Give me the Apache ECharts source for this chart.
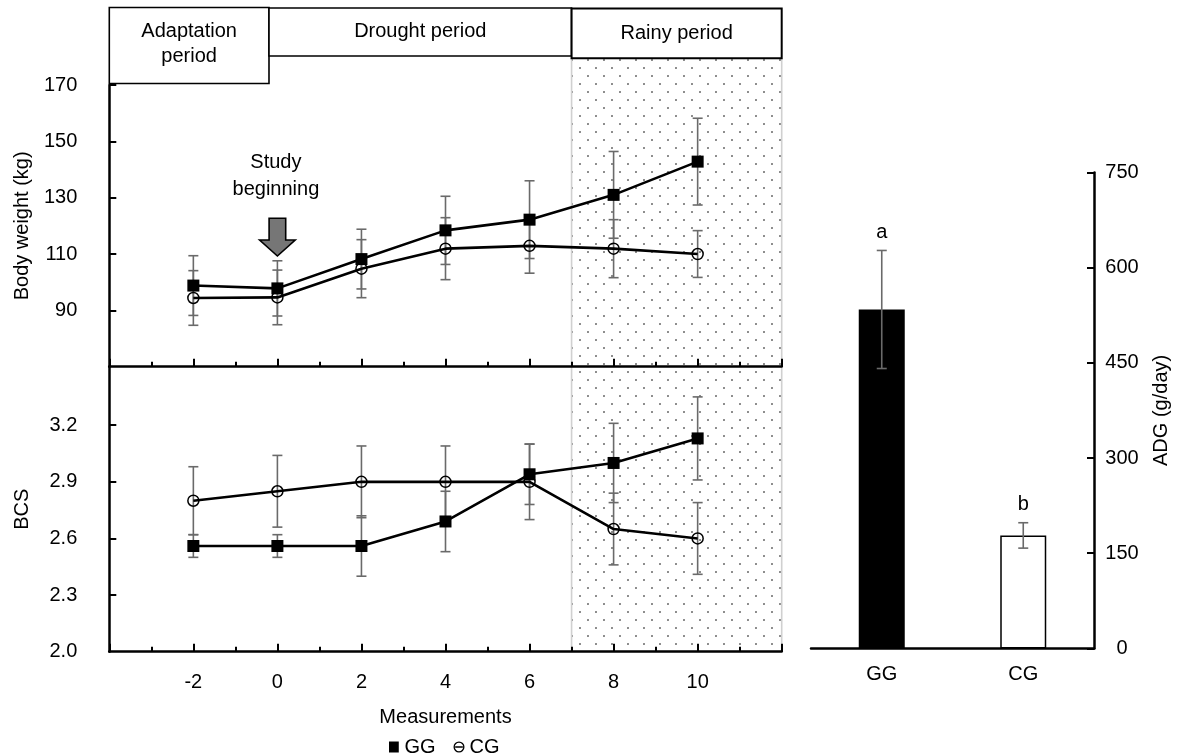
<!DOCTYPE html>
<html>
<head>
<meta charset="utf-8">
<script src="https://cdn.jsdelivr.net/npm/echarts@6.0.0/dist/echarts.min.js"></script>
<style>
html,body{margin:0;padding:0;background:#fff;}
#chart{width:1177px;height:755px;}
</style>
</head>
<body>
<div id="chart"></div>
<script>
// ---------- data ----------
const measurements = [-2, 0, 2, 4, 6, 8, 10];
const xLabels = [-2, 0, 2, 4, 6, 8, 10];
const bwTicks = [90, 110, 130, 150, 170];
const bcsTicks = [2.3, 2.6, 2.9, 3.2];
const bcsLabels = [2.0, 2.3, 2.6, 2.9, 3.2];

const bwGG   = [98.8, 97.8, 108.2, 118.4, 122.2, 131.0, 142.8];
const bwGGsd = [10.6, 9.8, 10.6, 12.1, 13.8, 15.4, 15.4];
const bwCG   = [94.4, 94.6, 104.8, 111.9, 112.9, 111.9, 110.0];
const bwCGsd = [9.7, 9.7, 10.3, 11.0, 9.7, 10.3, 8.3];

const bcsGG   = [2.56, 2.56, 2.56, 2.69, 2.94, 3.00, 3.13];
const bcsGGsd = [0.06, 0.06, 0.16, 0.16, 0.16, 0.21, 0.22];
const bcsCG   = [2.80, 2.85, 2.90, 2.90, 2.90, 2.65, 2.60];
const bcsCGsd = [0.18, 0.19, 0.19, 0.19, 0.20, 0.19, 0.19];

const groups = ['GG', 'CG'];
const adg = [534, 178];
const adgSd = [93, 20];
const adgLetters = ['a', 'b'];

const periodNames = ['Adaptation\nperiod', 'Drought period', 'Rainy period'];
const periodBounds = [-4, -0.2, 7, 12];
const studyStart = 0;

// ---------- styles ----------
const FF = 'Liberation Sans, Arial, Helvetica, sans-serif';
const FS = 20;
const ERR = '#6a6a6a';

const chart = echarts.init(document.getElementById('chart'), null, {renderer: 'canvas'});

function errRender(letters) {
  return function (params, api) {
    const x = api.value(0), lo = api.value(1), hi = api.value(2);
    const a = api.coord([x, lo]), b = api.coord([x, hi]);
    const w = 5;
    const st = {stroke: ERR, lineWidth: 1.6};
    const children = [
      {type: 'line', shape: {x1: a[0], y1: a[1], x2: b[0], y2: b[1]}, style: st},
      {type: 'line', shape: {x1: a[0] - w, y1: a[1], x2: a[0] + w, y2: a[1]}, style: st},
      {type: 'line', shape: {x1: b[0] - w, y1: b[1], x2: b[0] + w, y2: b[1]}, style: st}
    ];
    if (letters) {
      children.push({type: 'text', style: {text: letters[params.dataIndex], x: b[0], y: b[1] - 8,
        align: 'center', verticalAlign: 'bottom', font: FS + 'px ' + FF, fill: '#000'}});
    }
    return {type: 'group', children};
  };
}
function errData(xs, m, sd) { return xs.map((x, i) => [x, m[i] - sd[i], m[i] + sd[i]]); }
function pts(xs, ys) { return xs.map((x, i) => [x, ys[i]]); }

const axisLineStyle = {color: '#000', width: 2.5};
const lbl = {color: '#000', fontSize: FS, fontFamily: FF};

function xValAxis(gi, showLabels) {
  return {
    type: 'value', gridIndex: gi, min: -4, max: 12, interval: 2,
    axisLine: {show: true, onZero: false, lineStyle: axisLineStyle},
    axisTick: {show: true, inside: true, length: 8, lineStyle: {color: '#000', width: 2}},
    minorTick: {show: true, splitNumber: 2, length: 5, lineStyle: {color: '#000', width: 2}},
    splitLine: {show: false}, minorSplitLine: {show: false},
    axisLabel: showLabels ? Object.assign({customValues: xLabels, margin: 21}, lbl) : {show: false},
    name: showLabels ? 'Measurements' : '',
    nameLocation: 'middle', nameGap: 56, nameTextStyle: lbl
  };
}

const lineBase = {
  type: 'line', z: 4, lineStyle: {color: '#000', width: 2.6}, emphasis: {disabled: true}
};
const ggStyle = {symbol: 'rect', symbolSize: 12, itemStyle: {color: '#000'}};
const cgStyle = {symbol: 'circle', symbolSize: 11, itemStyle: {color: 'rgba(0,0,0,0)', borderColor: '#000', borderWidth: 1.5}};

const option = {
  backgroundColor: '#fff',
  animation: false,
  textStyle: {fontFamily: FF},
  grid: [
    {left: 109.3, top: 85, width: 672.4, height: 281.7},
    {left: 109.3, top: 366.7, width: 672.4, height: 285},
    {left: 811, top: 172.4, width: 283, height: 476}
  ],
  xAxis: [
    xValAxis(0, false),
    xValAxis(1, true),
    {
      type: 'category', gridIndex: 2, data: groups,
      axisLine: {show: true, lineStyle: axisLineStyle},
      axisTick: {show: false},
      axisLabel: Object.assign({margin: 16}, lbl)
    }
  ],
  yAxis: [
    {
      type: 'value', gridIndex: 0, min: 70, max: 170,
      axisLine: {show: true, onZero: false, lineStyle: axisLineStyle},
      axisTick: {show: true, inside: true, length: 7, customValues: bwTicks, lineStyle: {color: '#000', width: 2}},
      axisLabel: Object.assign({customValues: bwTicks, margin: 32}, lbl),
      splitLine: {show: false},
      name: 'Body weight (kg)', nameLocation: 'middle', nameGap: 77, nameTextStyle: lbl
    },
    {
      type: 'value', gridIndex: 1, min: 2.0, max: 3.51,
      axisLine: {show: true, onZero: false, lineStyle: axisLineStyle},
      axisTick: {show: true, inside: true, length: 7, customValues: bcsTicks, lineStyle: {color: '#000', width: 2}},
      axisLabel: Object.assign({customValues: bcsLabels, margin: 32, formatter: v => Number(v).toFixed(1)}, lbl),
      splitLine: {show: false},
      name: 'BCS', nameLocation: 'middle', nameGap: 77, nameTextStyle: lbl
    },
    {
      type: 'value', gridIndex: 2, position: 'right', min: 0, max: 750, interval: 150,
      axisLine: {show: true, onZero: false, lineStyle: axisLineStyle},
      axisTick: {show: true, inside: true, length: 7, lineStyle: {color: '#000', width: 2}},
      axisLabel: Object.assign({margin: 28, align: 'center'}, lbl),
      splitLine: {show: false},
      name: 'ADG (g/day)', nameLocation: 'middle', nameGap: 57, nameRotate: 90, nameTextStyle: lbl
    }
  ],
  legend: {
    left: 384, top: 732, itemWidth: 11, itemHeight: 11, itemGap: 18,
    textStyle: lbl, selectedMode: false,
    data: [
      {name: 'GG', icon: 'path://M1.5,1.5L9.5,1.5L9.5,10.5L1.5,10.5Z', itemStyle: {color: '#000', borderWidth: 0}},
      {name: 'CG', icon: 'path://M5,0A5,5 0 1,1 5,10A5,5 0 1,1 5,0ZM5,1.2A3.8,3.8 0 1,0 5,8.8A3.8,3.8 0 1,0 5,1.2ZM1.5,4.4L8.5,4.4L8.5,5.6L1.5,5.6Z',
       itemStyle: {color: '#000', borderWidth: 0}}
    ]
  },
  series: [
    {type: 'custom', name: 'errBwGG', xAxisIndex: 0, yAxisIndex: 0, z: 2, renderItem: errRender(null), data: errData(measurements, bwGG, bwGGsd)},
    {type: 'custom', name: 'errBwCG', xAxisIndex: 0, yAxisIndex: 0, z: 2, renderItem: errRender(null), data: errData(measurements, bwCG, bwCGsd)},
    {type: 'custom', name: 'errBcsGG', xAxisIndex: 1, yAxisIndex: 1, z: 2, renderItem: errRender(null), data: errData(measurements, bcsGG, bcsGGsd)},
    {type: 'custom', name: 'errBcsCG', xAxisIndex: 1, yAxisIndex: 1, z: 2, renderItem: errRender(null), data: errData(measurements, bcsCG, bcsCGsd)},
    Object.assign({}, lineBase, ggStyle, {name: 'GG', xAxisIndex: 0, yAxisIndex: 0, data: pts(measurements, bwGG)}),
    Object.assign({}, lineBase, cgStyle, {name: 'CG', xAxisIndex: 0, yAxisIndex: 0, data: pts(measurements, bwCG)}),
    Object.assign({}, lineBase, ggStyle, {name: 'GG', xAxisIndex: 1, yAxisIndex: 1, data: pts(measurements, bcsGG)}),
    Object.assign({}, lineBase, cgStyle, {name: 'CG', xAxisIndex: 1, yAxisIndex: 1, data: pts(measurements, bcsCG)}),
    {
      type: 'bar', name: 'ADG', xAxisIndex: 2, yAxisIndex: 2, barWidth: 46, z: 2,
      emphasis: {disabled: true},
      data: adg.map((v, i) => ({value: v, itemStyle: i === 0 ? {color: '#000'} : {color: '#fff', borderColor: '#000', borderWidth: 1.5}}))
    },
    {type: 'custom', name: 'errAdg', xAxisIndex: 2, yAxisIndex: 2, z: 3, renderItem: errRender(adgLetters),
      data: adg.map((v, i) => [i, v - adgSd[i], v + adgSd[i]])}
  ]
};
chart.setOption(option);

// ---------- annotations positioned through the axes ----------
const P = (gi, pt) => chart.convertToPixel({gridIndex: gi}, pt);
const xb = periodBounds.map(b => P(0, [b, 170])[0]);
const bottomY = P(1, [7, 2.0])[1];
const gridTop = P(0, [0, 170])[1];

const pc = document.createElement('canvas');
pc.width = 16; pc.height = 16;
const ctx = pc.getContext('2d');
ctx.fillStyle = '#fff'; ctx.fillRect(0, 0, 16, 16);
ctx.fillStyle = '#5e5e5e';
ctx.beginPath(); ctx.arc(4, 4, 0.95, 0, Math.PI * 2); ctx.fill();
ctx.beginPath(); ctx.arc(12, 12, 0.95, 0, Math.PI * 2); ctx.fill();

const boxTops = [7.5, 8, 8.5];
const boxBottoms = [gridTop - 1.5, 56, 58.3];
const textY = [44, 31, 33];

const g = [];
// rainy shading
g.push({type: 'rect', z: -10, silent: true,
  shape: {x: xb[2], y: boxBottoms[2], width: xb[3] - xb[2], height: bottomY - boxBottoms[2]},
  style: {fill: {image: pc, repeat: 'repeat'}}});
g.push({type: 'line', z: -9, silent: true, shape: {x1: xb[2], y1: boxBottoms[2], x2: xb[2], y2: bottomY}, style: {stroke: '#d0d0d0', lineWidth: 1.6}});
g.push({type: 'line', z: -9, silent: true, shape: {x1: xb[3], y1: boxBottoms[2], x2: xb[3], y2: bottomY}, style: {stroke: '#d0d0d0', lineWidth: 1.6}});
// period boxes
for (let i = 0; i < 3; i++) {
  g.push({type: 'rect', z: 10, silent: true,
    shape: {x: xb[i], y: boxTops[i], width: xb[i + 1] - xb[i], height: boxBottoms[i] - boxTops[i]},
    style: {fill: '#fff', stroke: '#000', lineWidth: i === 2 ? 2 : 1.6}});
  g.push({type: 'text', z: 11, silent: true,
    style: {text: periodNames[i], x: (xb[i] + xb[i + 1]) / 2, y: textY[i], align: 'center', verticalAlign: 'middle',
      font: FS + 'px ' + FF, fill: '#000', lineHeight: 25.5}});
}
// study beginning arrow
const x0 = P(0, [studyStart, 109.3])[0];
const tip = P(0, [studyStart, 109.3])[1];
g.push({type: 'polygon', z: 10, silent: true,
  shape: {points: [[x0 - 8.3, tip - 37.7], [x0 + 8.3, tip - 37.7], [x0 + 8.3, tip - 16], [x0 + 17.8, tip - 16],
    [x0, tip], [x0 - 17.8, tip - 16], [x0 - 8.3, tip - 16]]},
  style: {fill: '#767676', stroke: '#000', lineWidth: 1.6}});
const tp = P(0, [studyStart, 137.6]);
g.push({type: 'text', z: 10, silent: true,
  style: {text: 'Study\nbeginning', x: tp[0] - 1.5, y: tp[1], align: 'center', verticalAlign: 'middle',
    font: FS + 'px ' + FF, fill: '#000', lineHeight: 27.3}});

chart.setOption({graphic: {elements: g}});
</script>
</body>
</html>
